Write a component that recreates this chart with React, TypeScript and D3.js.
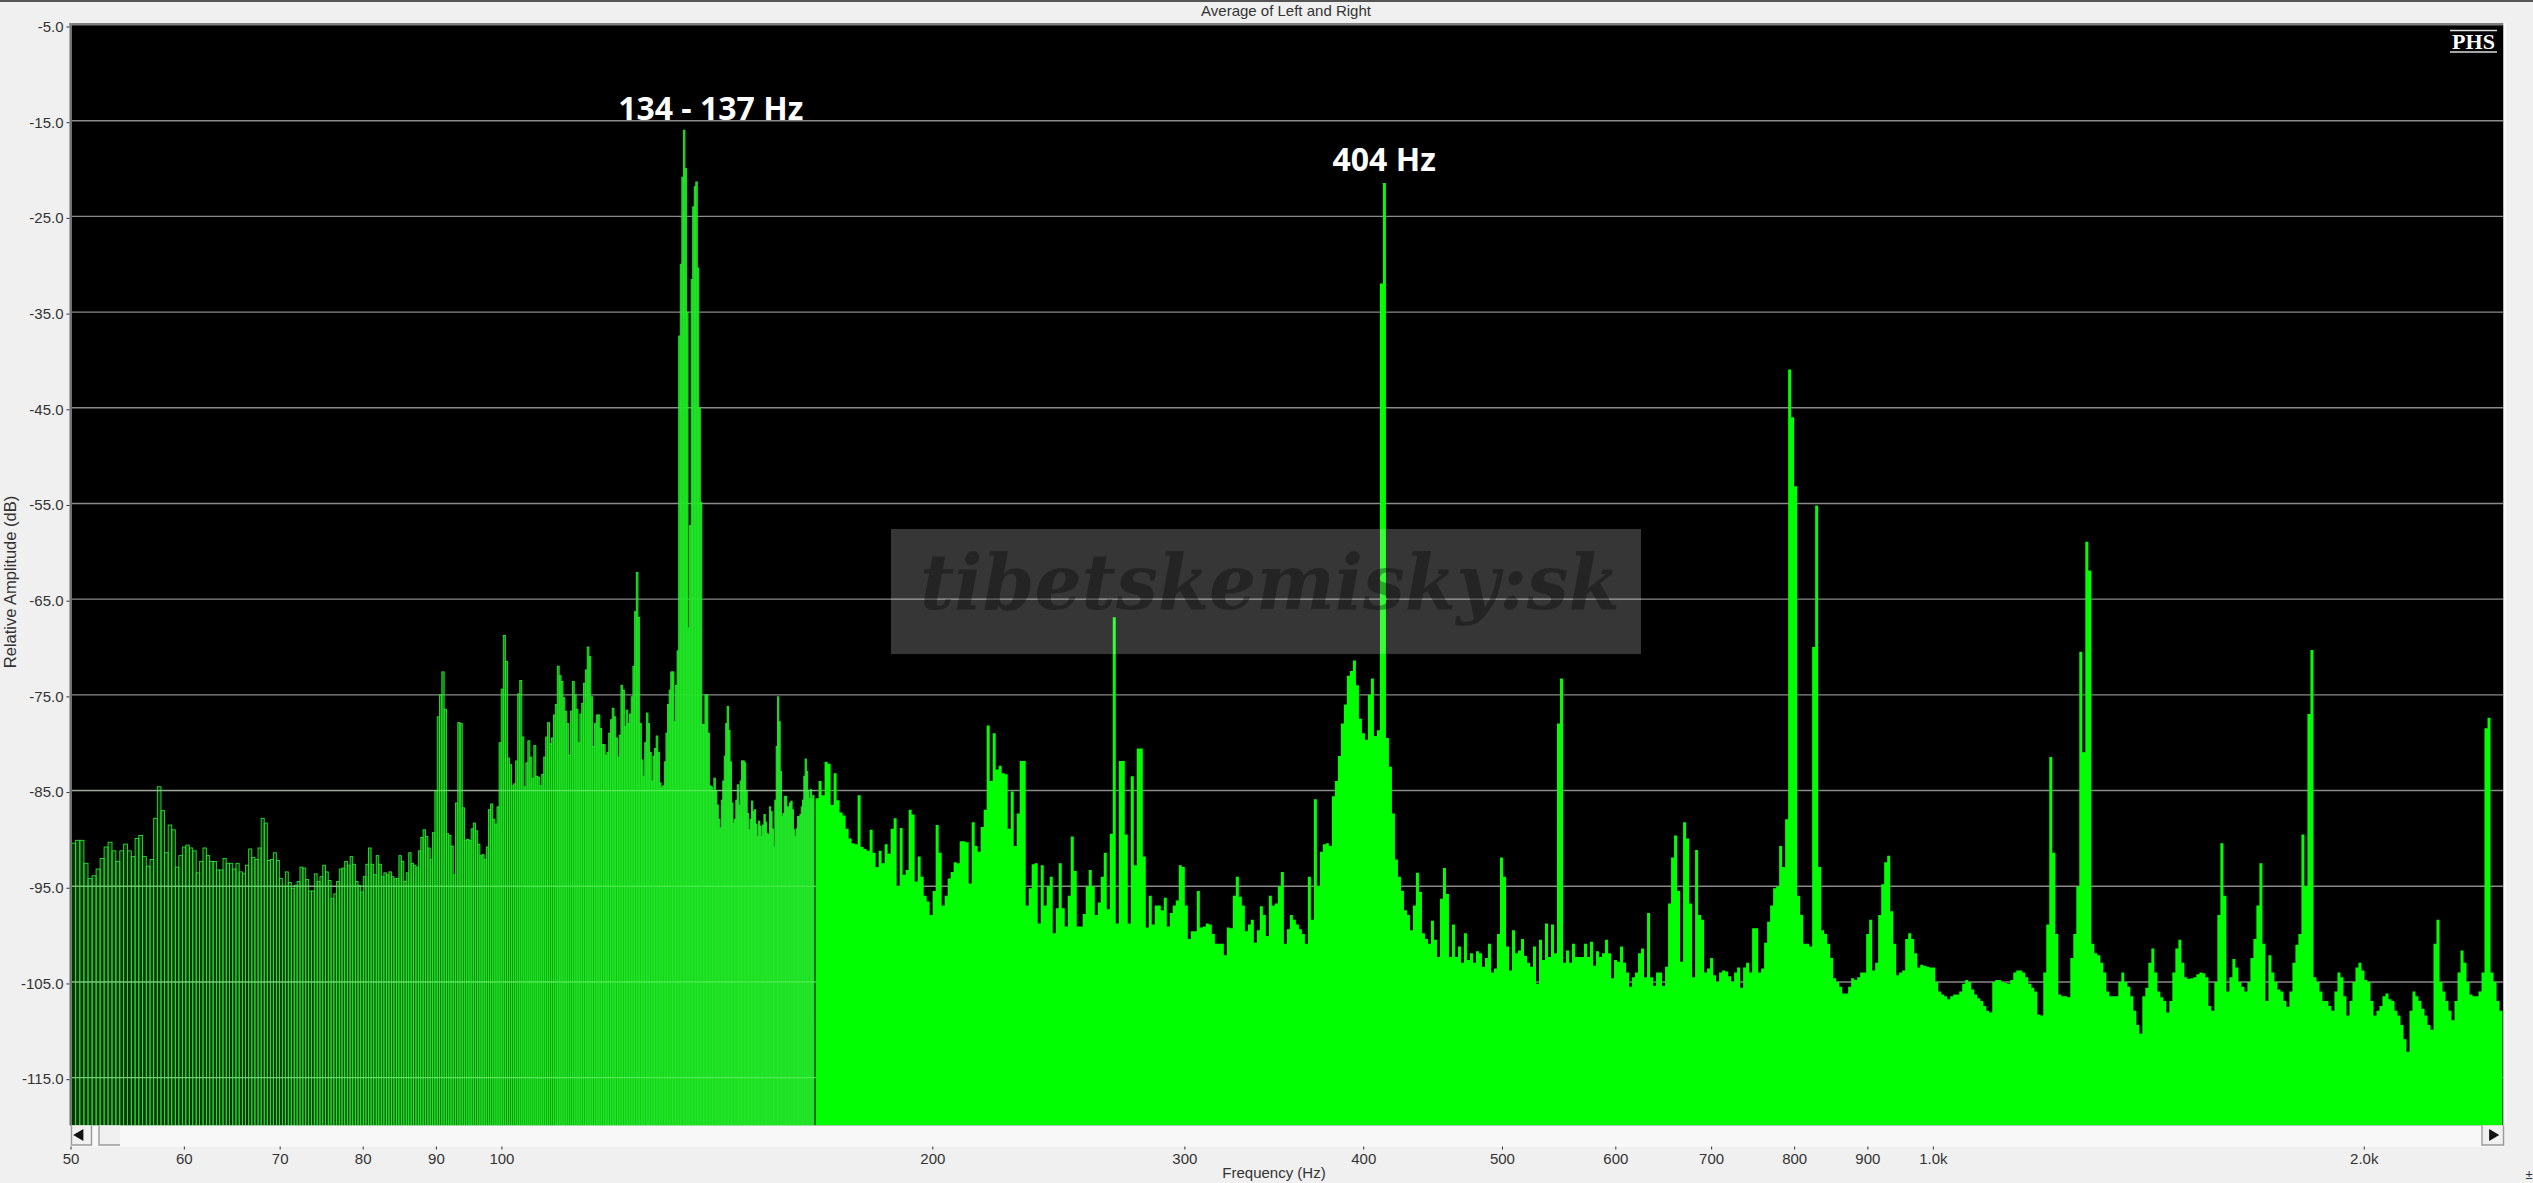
import React, { useEffect, useRef } from "react";
import * as d3 from "d3";

const yTicks = [-5, -15, -25, -35, -45, -55, -65, -75, -85, -95, -105, -115];
const xTicks = [50, 60, 70, 80, 90, 100, 200, 300, 400, 500, 600, 700, 800, 900, 1000, 2000];

// FFT bins from 50 Hz up, one value per bin, drawn as separate bars
const binHz = 0.3365;
const lowBinsDb = [
  -90.5, -90.2, -90.2, -92.6, -94.2, -93.9, -93.2, -92.1, -90.9, -90.4,
  -91.3, -92.4, -91.3, -90.6, -91.3, -91.9, -90, -89.7, -91.9, -92.9,
  -92.2, -87.9, -84.6, -87.1, -91.5, -88.6, -89.1, -93, -91.8, -90.9,
  -90.7, -91, -91.3, -93.6, -92.4, -91, -91.8, -92.4, -92.4, -93.3,
  -93.3, -92.1, -92.6, -92.6, -93.2, -92.6, -93.5, -93.7, -92.8, -91.1,
  -92, -92.2, -91, -87.9, -88.4, -92.3, -92.2, -91.5, -92.3, -94.2,
  -95, -93.5, -94.6, -95.2, -94.9, -94.5, -93, -93.1, -94.3, -95.5,
  -95.5, -93.7, -94.5, -94, -92.8, -93.5, -94.4, -96.3, -95.8, -94.5,
  -93.2, -93.1, -92.4, -92.8, -91.9, -92.7, -94.5, -94.9, -95.6, -94,
  -92.7, -91, -92.7, -93.8, -91.8, -92.7, -94, -93.6, -93.8, -93.5,
  -94, -94.2, -94.2, -91.8, -92.4, -94.5, -93.6, -91.5, -92.6, -92.8,
  -93, -91.3, -89.9, -89.1, -89.8, -91, -92.2, -89.4, -85, -77.3,
  -75, -72.6, -76.5, -89.5, -89.7, -90.8, -93.8, -86.3, -77.9, -78,
  -86.8, -90.2, -90.1, -90.2, -89, -88.4, -89.2, -90.6, -91.8, -91.7,
  -92.2, -90.9, -87, -86.4, -88, -88.5, -86.7, -80, -74.4, -68.8,
  -71.5, -81.6, -82.3, -84.5, -84.3, -81.9, -74.9, -73.5, -79.4, -84.6,
  -82.1, -79.8, -81.5, -83.7, -80.3, -83.5, -83.6, -84.5, -83.3, -81.5,
  -79.4, -77.9, -80.1, -79.5, -77.1, -76, -72, -73, -73.6, -75.3,
  -76.7, -78, -81.3, -76.7, -73.6, -75, -76.5, -80, -77, -75.9,
  -73.8, -72.4, -70, -71, -75.2, -80.4, -78, -77.1, -77.1, -78.5,
  -80.2, -80.2, -81.3, -81, -79, -77.6, -76.4, -77.3, -79.5, -81.5,
  -79.2, -74, -74.5, -78.3, -76.6, -78, -77, -75.2, -72, -66.3,
  -62.2, -66.9, -78, -81.8, -83.5, -80, -76.9, -78, -81, -84,
  -81.4, -80.6, -79.3, -81, -84.2, -84.7, -84.5, -82, -79, -76,
  -74.5, -72.6, -72.6, -77.8, -74, -70.4, -37.5, -30, -20.9, -16,
  -20, -35, -68, -57.3, -31.6, -24, -21.9, -21.4, -30.4, -45,
  -54.9, -78.1, -78.1, -75, -75, -79, -84.5, -84.6, -85, -83.7,
  -85, -86.5, -88, -88.9, -86, -84, -81.4, -78, -76.2, -78.7,
  -82, -86.3, -88.4, -88, -86, -84.4, -86.5, -84, -81.9, -81.9,
  -82.1, -85, -87.4, -89.1, -88, -86.1, -87.2, -87, -88.5, -89.8,
  -88.2, -88.7, -89.8, -88.6, -87.5, -88.3, -89.5, -89.6, -86.7, -87.2,
  -89, -90.9, -86, -80.4, -75.2, -77.8, -83, -87.7, -87.4, -85.6,
  -85.6, -86.7, -86.7, -86.3, -86.1, -87, -89.1, -89.8, -89, -87.7,
  -87.7, -87.5, -86.7, -86, -83.5, -81.7, -83, -85, -85.8, -84.9,
  -85.8, -85.5,
];

// above 165 Hz the bins merge, so values are read per narrow log-spaced column
const highStartHz = 165.5;
const highColumnRatio = 1.00484;
const highColumnsDb = [
  -85.8, -84, -85.5, -82, -82.2, -86.5, -83.2, -86, -87.3, -87.6, -89, -90, -90.5, -90.6, -85.5, -90.9, -91.1, -91.3, -89.1, -91.5,
  -93, -91.3, -92.6, -90.6, -91.6, -89, -87.9, -95, -88.9, -93.8, -93.3, -87, -87.5, -94.5, -91.9, -94, -96, -96.6, -98, -95.5,
  -88.6, -91.5, -97, -96, -94.2, -93.5, -92.5, -92.6, -90.3, -90.3, -90.4, -94.7, -88.3, -90.8, -91.4, -88.8, -87, -78.2, -84, -79,
  -82.8, -82.4, -83.2, -83.3, -89, -85.1, -90.8, -87.4, -81.9, -81.9, -97, -95.2, -92.7, -92.6, -98.9, -92.8, -97, -95, -94, -99.9,
  -97.3, -92.6, -97.3, -99.2, -96, -89.8, -93.4, -99.2, -99.2, -97.9, -95, -93.3, -95, -98, -96.7, -94, -91.5, -97.4, -89.5, -66.9,
  -98.9, -81.9, -81.9, -89.6, -98.9, -83.5, -92.8, -80.6, -80.6, -91.9, -99.3, -96, -99, -97, -97, -97.5, -96.2, -99.2, -97.8, -97,
  -96.5, -92.8, -93, -97, -100.5, -99.7, -99.7, -95.5, -99.3, -99.2, -98.9, -99, -100, -101, -101, -101, -102.2, -99.3, -99.4, -96,
  -94, -96.1, -97, -99.7, -99, -98.5, -100.9, -99.6, -97.1, -98, -100.2, -96, -97, -96.8, -95, -93.5, -101, -99.5, -98, -98.5,
  -99, -99.5, -100, -101, -94, -98.5, -85.9, -95, -91.4, -90.6, -90.5, -90.8, -85.6, -84, -81.4, -78, -76, -73, -72.5, -71.4,
  -74, -77.5, -79, -79.7, -75, -73.3, -79.3, -78.7, -32, -21.5, -79.5, -82.5, -87.4, -92.2, -94, -95.5, -97.5, -98, -99.6, -97,
  -93.6, -95.6, -99.9, -100.5, -101, -98.6, -100.6, -102.4, -96.3, -93.1, -95.8, -102.4, -99, -102.4, -101.3, -103, -99.9, -102.7, -102, -103,
  -101.8, -102, -103.4, -102.5, -101, -104, -103.6, -100, -92, -94, -101.3, -103.8, -99.6, -102, -101.7, -100.5, -102.3, -103, -103.4, -101.3,
  -105.2, -100.6, -102.7, -98.9, -102.4, -99, -102, -78, -73.3, -103, -101.7, -103, -101, -102.4, -102.4, -102.4, -101, -102.4, -100.8, -103.3,
  -101.8, -102.4, -102, -100.6, -102, -104.6, -102.7, -102.9, -101.3, -103, -104, -105.5, -104.5, -104, -102, -101.5, -104.5, -97.8, -104.5, -105.4,
  -104, -104, -105.4, -103.4, -96.8, -92, -89.7, -95.5, -102.9, -88.3, -90, -96.8, -104.5, -91.2, -98, -98.5, -104, -103.6, -102.5, -104.3,
  -105, -104, -103.8, -103.9, -104.4, -105, -104, -103.5, -105.6, -103.5, -103, -104, -99.4, -99.4, -104, -103.6, -100.9, -98.7, -97, -95.2,
  -95, -90.8, -93, -88, -41, -46, -53.2, -96, -98, -101, -101, -101.3, -70, -55.2, -93, -99.6, -100, -101, -102.5, -104.6,
  -105, -105.5, -106.2, -106.2, -105.5, -104.6, -104.8, -104.5, -104, -104, -100, -98.5, -103.8, -103, -98, -94.8, -92.5, -91.8, -97.6, -101,
  -104.3, -104, -103.8, -100.5, -99.9, -100.5, -102, -103.5, -103.2, -103.3, -103.4, -103.5, -103.5, -105, -106, -106.3, -106.5, -106.8, -106.5, -106.3,
  -106.3, -106, -105.2, -104.8, -105, -105.8, -106.3, -106.7, -107, -107.5, -108, -108.2, -105, -104.8, -104.8, -105, -105.1, -105.2, -104.8, -104,
  -103.8, -103.8, -104, -104.5, -105.2, -105.6, -106, -108.4, -108.5, -104, -99, -81.5, -91.5, -100, -106.3, -106.5, -106.5, -106.6, -102.5, -100,
  -95, -70.5, -81, -59, -62, -101, -102, -102.2, -103, -104, -106, -106.5, -106.5, -106.5, -105, -104, -105, -105.5, -106.5, -108,
  -109.5, -110.4, -106.5, -105.6, -103, -101.5, -104, -106, -106.6, -107, -108.2, -107, -104, -101.5, -100.6, -103, -104.5, -104.7, -104.6, -104.5,
  -104.2, -104, -104.1, -104.5, -107.5, -108, -105, -98, -90.5, -96, -106, -104.5, -102.6, -103.5, -105, -105.5, -106, -105, -102.5, -100.5,
  -97, -92.6, -101, -107, -102.2, -104, -105, -105.8, -106, -107, -107.6, -106, -103, -101.1, -100, -89.6, -95, -77, -70.3, -104.5,
  -105, -106, -107, -107, -107.5, -108, -106, -104, -104.5, -106.5, -108.5, -107, -105, -103.5, -103, -103.8, -104.8, -105, -107, -108.5,
  -108, -107.5, -106.5, -106.2, -106.8, -107, -108, -108.5, -109.5, -111, -112.3, -108, -106, -106.5, -107, -107.8, -108.5, -109.5, -110, -101,
  -98.5, -105, -106, -107, -108, -109, -107, -104, -101.7, -103, -105, -106.3, -106.5, -106.5, -106, -104, -78.5, -77.4, -104, -105,
  -107, -108, -108,
];

const annotations = [
  { label: "134 - 137 Hz", hz: 139.8, db: -14.9 },
  { label: "404 Hz", hz: 413, db: -20.3 },
];

const W = 2533;
const H = 1183;
const plot = { left: 71.5, right: 2503.5, top: 25, bottom: 1125.5 };

const App: React.FC = () => {
  const svgRef = useRef<SVGSVGElement | null>(null);

  useEffect(() => {
    const svg = d3.select(svgRef.current);
    svg.selectAll("*").remove();

    const x = d3.scaleLog().domain([50, 2500]).range([plot.left, plot.right]);
    const y = d3.scaleLinear().domain([-120, -5]).range([plot.bottom, plot.top]);

    svg.append("rect").attr("width", W).attr("height", H).attr("fill", "#f0f0f0");
    svg.append("rect").attr("y", 0).attr("width", W).attr("height", 2).attr("fill", "#555");

    svg
      .append("text")
      .attr("x", 1286)
      .attr("y", 16)
      .attr("text-anchor", "middle")
      .attr("font-family", "Liberation Sans")
      .attr("font-size", 15)
      .attr("fill", "#333")
      .text("Average of Left and Right");

    // plot area
    svg
      .append("rect")
      .attr("x", plot.left)
      .attr("y", plot.top)
      .attr("width", plot.right - plot.left)
      .attr("height", plot.bottom - plot.top)
      .attr("fill", "#000");

    svg
      .append("defs")
      .append("clipPath")
      .attr("id", "plot-clip")
      .append("rect")
      .attr("x", plot.left)
      .attr("y", plot.top)
      .attr("width", plot.right - plot.left)
      .attr("height", plot.bottom - plot.top);

    const g = svg.append("g").attr("clip-path", "url(#plot-clip)");

    g.selectAll(".grid")
      .data(yTicks.slice(1))
      .enter()
      .append("line")
      .attr("class", "grid")
      .attr("x1", plot.left)
      .attr("x2", plot.right)
      .attr("y1", (d) => y(d))
      .attr("y2", (d) => y(d))
      .attr("stroke", "#8a8a8a")
      .attr("stroke-width", 1.4);

    // separate bars below 165 Hz, the narrower ones blur together into solid green
    const binWidth = (i: number) => x(50 + (i + 1) * binHz) - x(50 + i * binHz);
    const fillOpacity = d3.scaleLinear().domain([3, 1.3]).range([0.2, 0.95]).clamp(true);

    g.selectAll(".bin")
      .data(lowBinsDb)
      .enter()
      .append("rect")
      .attr("class", "bin")
      .attr("x", (_, i) => x(50 + i * binHz))
      .attr("width", (_, i) => binWidth(i))
      .attr("y", (d) => y(d))
      .attr("height", (d) => plot.bottom - y(d))
      .attr("fill", "#00ff00")
      .attr("fill-opacity", (_, i) => fillOpacity(binWidth(i)))
      .attr("stroke", "#2ce034")
      .attr("stroke-width", 0.9);

    // grid stays faintly visible through the separate bars
    g.selectAll(".grid-over")
      .data(yTicks.slice(8))
      .enter()
      .append("line")
      .attr("class", "grid-over")
      .attr("x1", plot.left)
      .attr("x2", x(highStartHz))
      .attr("y1", (d) => y(d))
      .attr("y2", (d) => y(d))
      .attr("stroke", "#c8ffc8")
      .attr("stroke-opacity", 0.28)
      .attr("stroke-width", 1.2);

    // merged columns above that
    const area = d3
      .area<number>()
      .x((_, i) => x(highStartHz * Math.pow(highColumnRatio, i)))
      .y0(plot.bottom)
      .y1((d) => y(d))
      .curve(d3.curveStepAfter);

    g.append("path").attr("d", area(highColumnsDb) as string).attr("fill", "#00ff00");

    // watermark
    svg
      .append("rect")
      .attr("x", 891)
      .attr("y", 529)
      .attr("width", 750)
      .attr("height", 125)
      .attr("fill", "#fff")
      .attr("fill-opacity", 0.21);

    svg
      .append("text")
      .attr("x", 920)
      .attr("y", 609)
      .attr("textLength", 700)
      .attr("lengthAdjust", "spacingAndGlyphs")
      .attr("font-family", "DejaVu Serif")
      .attr("font-style", "italic")
      .attr("font-weight", "bold")
      .attr("font-size", 76)
      .attr("fill", "#000")
      .attr("fill-opacity", 0.33)
      .text("tibetskemisky:sk");

    annotations.forEach((a) => {
      svg
        .append("text")
        .attr("x", x(a.hz))
        .attr("y", y(a.db))
        .attr("text-anchor", "middle")
        .attr("font-family", "Open Sans")
        .attr("font-weight", "bold")
        .attr("font-size", 32)
        .attr("fill", "#fff")
        .text(a.label);
    });

    // PHS badge
    svg
      .append("text")
      .attr("x", 2473.5)
      .attr("y", 49)
      .attr("text-anchor", "middle")
      .attr("font-family", "Liberation Serif")
      .attr("font-weight", "bold")
      .attr("font-size", 22)
      .attr("fill", "#fff")
      .text("PHS");
    [30.5, 52].forEach((ly) => {
      svg
        .append("line")
        .attr("x1", 2450)
        .attr("x2", 2497)
        .attr("y1", ly)
        .attr("y2", ly)
        .attr("stroke", "#ddd")
        .attr("stroke-width", 1.5);
    });

    // frame
    svg
      .append("rect")
      .attr("x", 69.5)
      .attr("y", 23)
      .attr("width", 2)
      .attr("height", plot.bottom - 23)
      .attr("fill", "#707070");
    svg
      .append("rect")
      .attr("x", 69.5)
      .attr("y", 23)
      .attr("width", plot.right - 69.5)
      .attr("height", 2.5)
      .attr("fill", "#808080");
    svg
      .append("rect")
      .attr("x", plot.right)
      .attr("y", 23)
      .attr("width", 3)
      .attr("height", plot.bottom - 23)
      .attr("fill", "#fafafa");

    // scroll bar: buttons have no top edge in the original
    svg
      .append("rect")
      .attr("x", plot.left)
      .attr("y", plot.bottom)
      .attr("width", plot.right - plot.left)
      .attr("height", 21.5)
      .attr("fill", "#f8f8f8");
    const scrollParts = [
      { bx: 71.5, bw: 20, closed: true },
      { bx: 99, bw: 21, closed: false },
      { bx: 2482, bw: 21.5, closed: true },
    ];
    scrollParts.forEach((p) => {
      const bottom = plot.bottom + 19.5;
      const path = d3.path();
      path.moveTo(p.bx, plot.bottom);
      path.lineTo(p.bx, bottom);
      path.lineTo(p.bx + p.bw, bottom);
      if (p.closed) path.lineTo(p.bx + p.bw, plot.bottom);
      svg
        .append("rect")
        .attr("x", p.bx)
        .attr("y", plot.bottom)
        .attr("width", p.bw)
        .attr("height", 19.5)
        .attr("fill", "#f0f0f0");
      svg
        .append("path")
        .attr("d", path.toString())
        .attr("fill", "none")
        .attr("stroke", "#9a9a9a")
        .attr("stroke-width", 1.4);
    });
    const tri = d3.symbol().type(d3.symbolTriangle).size(60);
    [
      { tx: 80, rot: -90 },
      { tx: 2492.5, rot: 90 },
    ].forEach((t) => {
      svg
        .append("path")
        .attr("d", tri() as string)
        .attr("transform", `translate(${t.tx},1135) rotate(${t.rot})`)
        .attr("fill", "#111");
    });

    // axes
    const yAxis = d3
      .axisLeft(y)
      .tickValues(yTicks)
      .tickSize(3)
      .tickPadding(3)
      .tickFormat((d) => (d as number).toFixed(1));
    const yg = svg.append("g").attr("transform", "translate(69.5,1.5)").call(yAxis);

    const xAxis = d3
      .axisBottom(x)
      .tickValues(xTicks)
      .tickSize(3)
      .tickPadding(3.5)
      .tickFormat((d) => ((d as number) >= 1000 ? `${(d as number) / 1000}.0k` : `${d}`));
    const xg = svg.append("g").attr("transform", "translate(-1,1146.5)").call(xAxis);

    [yg, xg].forEach((axis) => {
      axis.select(".domain").remove();
      axis.selectAll("line").attr("stroke", "#333");
      axis
        .selectAll("text")
        .attr("font-family", "Liberation Sans")
        .attr("font-size", 15)
        .attr("fill", "#333");
    });

    svg
      .append("text")
      .attr("x", 1274)
      .attr("y", 1178)
      .attr("text-anchor", "middle")
      .attr("font-family", "Liberation Sans")
      .attr("font-size", 15)
      .attr("fill", "#333")
      .text("Frequency (Hz)");

    svg
      .append("text")
      .attr("transform", "translate(16,582) rotate(-90)")
      .attr("text-anchor", "middle")
      .attr("font-family", "Liberation Sans")
      .attr("font-size", 16.5)
      .attr("fill", "#333")
      .text("Relative Amplitude (dB)");

    svg
      .append("text")
      .attr("x", 2529)
      .attr("y", 1179)
      .attr("text-anchor", "middle")
      .attr("font-family", "Liberation Sans")
      .attr("font-size", 13)
      .attr("fill", "#333")
      .text("±");
  }, []);

  return (
    <svg
      ref={svgRef}
      width={W}
      height={H}
      style={{ position: "absolute", top: 0, left: 0, display: "block" }}
    />
  );
};

export default App;
